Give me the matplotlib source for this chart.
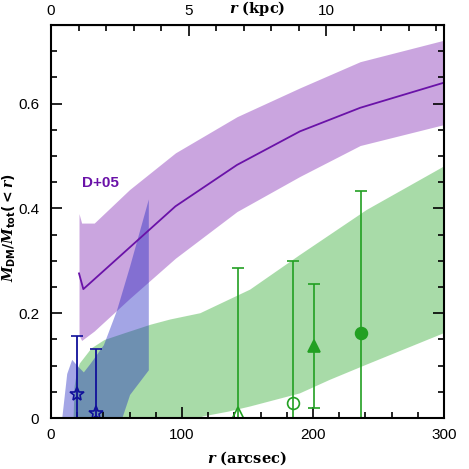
import numpy as np
import matplotlib
matplotlib.use("Agg")
from matplotlib import pyplot as plt

plt.rcParams['font.family'] = ['Liberation Sans', 'DejaVu Sans']
plt.rcParams['mathtext.fontset'] = 'custom'
plt.rcParams['mathtext.it'] = 'DejaVu Serif:italic:bold'
plt.rcParams['mathtext.rm'] = 'DejaVu Sans:bold'
plt.rcParams['mathtext.bf'] = 'DejaVu Sans:bold'

# D+05 model band (arcsec, M_DM/M_tot)
d05_r = [21.4, 23.4, 33, 60, 95, 142, 190, 236, 300]
d05_hi = [0.39, 0.372, 0.372, 0.436, 0.506, 0.575, 0.63, 0.68, 0.721]
d05_lo = [0.158, 0.148, 0.166, 0.228, 0.305, 0.394, 0.461, 0.52, 0.56]
d05_line_r = [21.4, 24.7, 95, 142, 190, 236, 300]
d05_line = [0.276, 0.246, 0.404, 0.483, 0.547, 0.592, 0.640]

# blue band
blue_r = [8.2, 12, 15.8, 20, 24.7, 30, 40, 50, 60, 74.3]
blue_hi = [0.0, 0.085, 0.112, 0.1, 0.088, 0.105, 0.14, 0.206, 0.29, 0.418]
blue_lo = [-0.3, -0.28, -0.26, -0.24, -0.22, -0.2, -0.12, -0.03, 0.045, 0.092]

# green band
green_hi_r = [17, 18, 20, 22, 31, 41, 56.5, 76, 91, 114, 152, 190, 241, 300]
green_hi = [-0.02, 0.06, 0.09, 0.104, 0.133, 0.149, 0.162, 0.178, 0.188, 0.2,
            0.245, 0.311, 0.397, 0.48]
green_lo_r = [17, 60, 80, 100, 116, 135, 152, 190, 213, 241, 300]
green_lo = [-0.25, -0.1, -0.05, -0.015, 0.003, 0.012, 0.022, 0.047, 0.073, 0.102, 0.162]

# data points
star_r = [20.1, 34]
star_y = [0.045, 0.01]
star_hi = [0.157, 0.131]
star_lo = [-0.05, -0.05]

green_pts_r = [143, 184.4, 200.4, 237]
green_pts_y = [0.009, 0.029, 0.1375, 0.162]
green_pts_hi = [0.287, 0.299, 0.255, 0.434]
green_pts_lo = [-0.05, -0.05, 0.0185, -0.05]
green_pts_mk = ['^', 'o', '^', 'o']
green_pts_fill = [False, False, True, True]

ARCSEC2KPC = 0.0476

purple = '#6a12a8'
green = '#22a022'
navy = '#10109a'

fig = plt.figure(figsize=(4.69, 4.69), dpi=100)
ax = fig.add_axes([0.1087, 0.1087, 0.838, 0.838])

ax.fill_between(d05_r, d05_lo, d05_hi, color='#974dc1', alpha=0.5, lw=0)
ax.fill(np.concatenate([green_hi_r, green_lo_r[::-1]]),
        np.concatenate([green_hi, green_lo[::-1]]),
        color='#53b953', alpha=0.5, lw=0)
ax.fill_between(blue_r, blue_lo, blue_hi, color='#1920c0', alpha=0.4, lw=0)
ax.plot(d05_line_r, d05_line, color=purple, lw=1.3)

for i in range(len(star_r)):
    y = star_y[i]
    ax.errorbar(star_r[i], y, yerr=[[y - star_lo[i]], [star_hi[i] - y]],
                fmt='*', color=navy, mfc='none', mec=navy, ms=10, mew=1.2,
                elinewidth=1.3, capsize=4.5, capthick=1.3)

for i in range(len(green_pts_r)):
    y = green_pts_y[i]
    mfc = green if green_pts_fill[i] else 'none'
    ax.errorbar(green_pts_r[i], y, yerr=[[y - green_pts_lo[i]], [green_pts_hi[i] - y]],
                fmt=green_pts_mk[i], color=green, mfc=mfc, mec=green, ms=8.5, mew=1.2,
                elinewidth=1.2, capsize=4, capthick=1.2)

ax.text(23.7, 0.449, 'D+05', color=purple, fontsize=11, fontweight='bold',
        va='center', ha='left')

ax.set_xlim(0, 300)
ax.set_ylim(0, 0.75)
ax.set_xticks([0, 100, 200, 300])
ax.set_xticks(np.arange(0, 301, 20), minor=True)
ax.set_yticks([0, 0.2, 0.4, 0.6])
ax.set_yticklabels(['0', '0.2', '0.4', '0.6'])
ax.set_yticks(np.arange(0, 0.751, 0.05), minor=True)
ax.tick_params(which='both', direction='in', right=True, top=False, width=1.2,
               labelsize=11)
ax.tick_params(which='major', length=8)
ax.tick_params(which='minor', length=4.5)
ax.tick_params(axis='y', pad=8.5)
ax.tick_params(axis='x', pad=7)
for s in ax.spines.values():
    s.set_linewidth(1.5)

sec = ax.secondary_xaxis('top', functions=(lambda r: r * ARCSEC2KPC,
                                           lambda k: k / ARCSEC2KPC))
sec.set_xticks([0, 5, 10])
sec.set_xticks(np.arange(0, 15, 1), minor=True)
sec.tick_params(which='both', direction='in', width=1.2, labelsize=11, pad=5)
sec.tick_params(which='major', length=8)
sec.tick_params(which='minor', length=4.5)

fig.text(247 / 469, 1 - 458 / 469, r'$r$ (arcsec)', fontsize=10.5, fontweight='bold',
         family='DejaVu Serif', ha='center', va='center')
fig.text(257 / 469, 1 - 9 / 469, r'$r$ (kpc)', fontsize=10.5, fontweight='bold',
         family='DejaVu Serif', ha='center', va='center')
fig.text(9 / 469, 1 - 228 / 469, r'$M_{\rm DM}/M_{\rm tot}(<r)$', fontsize=10,
         rotation=90, ha='center', va='center', family='DejaVu Serif')

fig.savefig('out.png', dpi=100)
